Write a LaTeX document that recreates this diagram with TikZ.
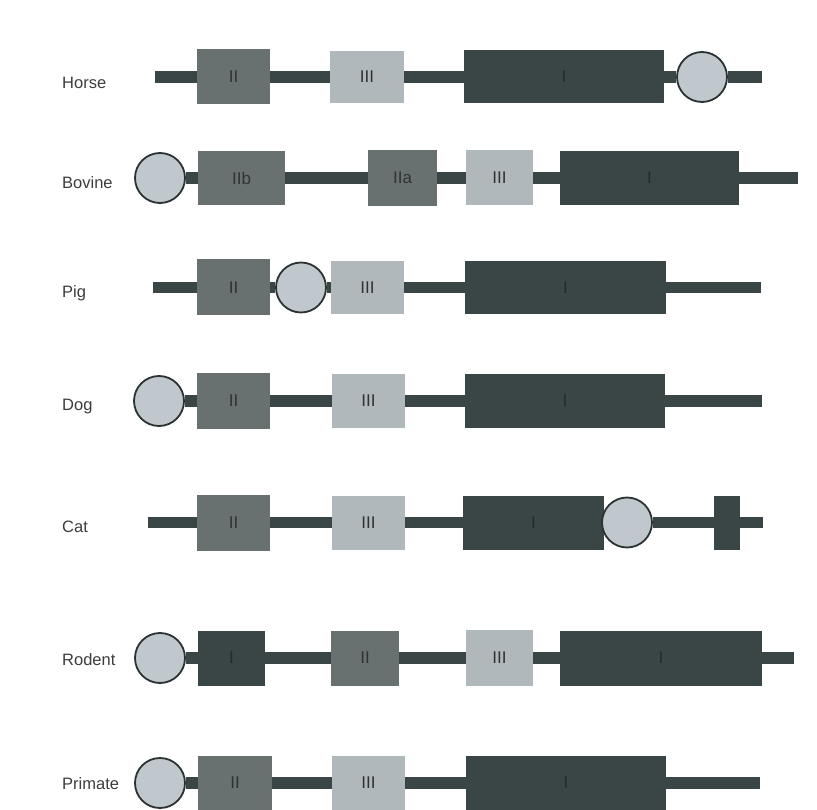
\documentclass[tikz,border=0pt]{standalone}
\usepackage{fontspec}
\setmainfont{Liberation Sans}
\usetikzlibrary{backgrounds}
\definecolor{dnadark}{HTML}{3A4545}
\definecolor{exontwo}{HTML}{687170}
\definecolor{exonthree}{HTML}{B0B8BB}
\definecolor{promfill}{HTML}{C0C8CD}
\definecolor{promline}{HTML}{2B3232}
\definecolor{labeltext}{HTML}{3C3C3C}
\definecolor{numtext}{HTML}{2E3434}
\definecolor{numtextdark}{HTML}{252B2B}
\begin{document}
\begin{tikzpicture}[x=1pt,y=-1pt,
  exon/.style={rectangle, inner sep=0pt, draw=none, font=\fontsize{17}{17}\selectfont, text=numtext},
  exI/.style={exon, fill=dnadark, text=numtextdark},
  exII/.style={exon, fill=exontwo},
  exIII/.style={exon, fill=exonthree},
  wh/.style 2 args={minimum width=#1pt, minimum height=#2pt},
  prom/.style={circle, inner sep=0pt, minimum size=50pt, fill=promfill, draw=promline, line width=1.8pt},
  backbone/.style={draw=dnadark, line width=11.5pt},
  species/.style={anchor=base west, inner sep=0pt, font=\fontsize{16.5}{16.5}\selectfont, text=labeltext}]
\clip (0,0) rectangle (817,810);

% Horse
\node[species] (lh) at (62,89) {Horse};
\coordinate (hs) at (155,77);
\coordinate (he) at (762,77);
\node[exII, wh={73}{55}] (h2) at (233.5,77) {II};
\node[exIII, wh={74}{52}] (h3) at (367,77) {III};
\node[exI, wh={200}{53}] (h1) at (564,77) {I};
\node[prom] (hp) at (702,77) {};
\begin{scope}[on background layer]
\draw[backbone] (hs) -- (h2) -- (h3) -- (h1) -- (hp) -- (he);
\end{scope}

% Bovine
\node[species] (lb) at (62,189) {Bovine};
\coordinate (be) at (798,178);
\node[prom] (bp) at (160,178) {};
\node[exII, wh={87}{54}] (b2b) at (241.5,178) {IIb};
\node[exII, wh={69}{56}] (b2a) at (402.5,178) {IIa};
\node[exIII, wh={67}{55}] (b3) at (499.5,178) {III};
\node[exI, wh={179}{54}] (b1) at (649.5,178) {I};
\begin{scope}[on background layer]
\draw[backbone] (bp) -- (b2b) -- (b2a) -- (b3) -- (b1) -- (be);
\end{scope}

% Pig
\node[species] (lp) at (62,298) {Pig};
\coordinate (ps) at (153,287.5);
\coordinate (pe) at (761,287.5);
\node[exII, wh={73}{56}] (p2) at (233.5,287.5) {II};
\node[prom] (pp) at (301,287.5) {};
\node[exIII, wh={73}{53}] (p3) at (367.5,287.5) {III};
\node[exI, wh={201}{53}] (p1) at (565.5,287.5) {I};
\begin{scope}[on background layer]
\draw[backbone] (ps) -- (p2) -- (pp) -- (p3) -- (p1) -- (pe);
\end{scope}

% Dog
\node[species] (ld) at (62,410.5) {Dog};
\coordinate (de) at (762,401);
\node[prom] (dp) at (159,401) {};
\node[exII, wh={73}{55}] (d2) at (233.5,401) {II};
\node[exIII, wh={73}{53}] (d3) at (368.5,401) {III};
\node[exI, wh={200}{53}] (d1) at (565,401) {I};
\begin{scope}[on background layer]
\draw[backbone] (dp) -- (d2) -- (d3) -- (d1) -- (de);
\end{scope}

% Cat
\node[species] (lc) at (62,532) {Cat};
\coordinate (cs) at (148,522.5);
\coordinate (ce) at (763,522.5);
\node[exII, wh={73}{56}] (c2) at (233.5,522.5) {II};
\node[exIII, wh={73}{54}] (c3) at (368.5,522.5) {III};
\node[exI, wh={141}{54}] (c1) at (533.5,522.5) {I};
\node[prom] (cp) at (627,522.5) {};
\node[exI, wh={26}{54}] (cx) at (727,522.5) {};
\begin{scope}[on background layer]
\draw[backbone] (cs) -- (c2) -- (c3) -- (c1) -- (cp) -- (cx) -- (ce);
\end{scope}

% Rodent
\node[species] (lr) at (62,665) {Rodent};
\coordinate (re) at (794,658);
\node[prom] (rp) at (160,658) {};
\node[exI, wh={67}{55}] (r1a) at (231.5,658) {I};
\node[exII, wh={68}{55}] (r2) at (365,658) {II};
\node[exIII, wh={67}{56}] (r3) at (499.5,658) {III};
\node[exI, wh={202}{55}] (r1) at (661,658) {I};
\begin{scope}[on background layer]
\draw[backbone] (rp) -- (r1a) -- (r2) -- (r3) -- (r1) -- (re);
\end{scope}

% Primate
\node[species] (lpr) at (62,789) {Primate};
\coordinate (pre) at (760,783);
\node[prom] (prp) at (160,783) {};
\node[exII, wh={74}{55}] (pr2) at (235,783) {II};
\node[exIII, wh={73}{55}] (pr3) at (368.5,783) {III};
\node[exI, wh={200}{55}] (pr1) at (566,783) {I};
\begin{scope}[on background layer]
\draw[backbone] (prp) -- (pr2) -- (pr3) -- (pr1) -- (pre);
\end{scope}
\end{tikzpicture}
\end{document}
